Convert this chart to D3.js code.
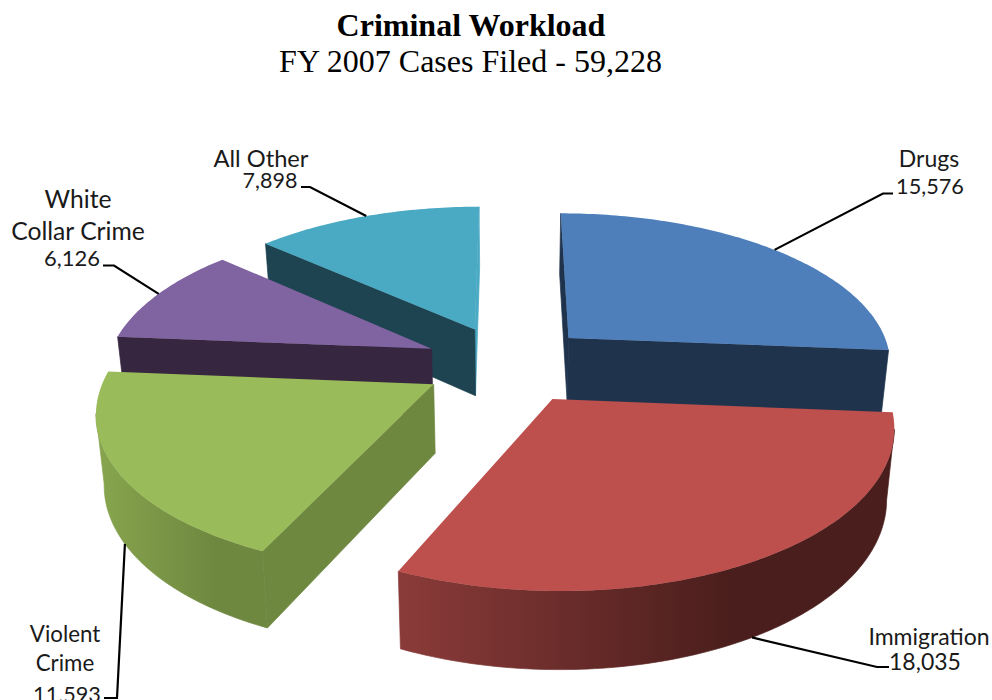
<!DOCTYPE html>
<html>
<head>
<meta charset="utf-8">
<script src="https://cdn.jsdelivr.net/npm/d3@7/dist/d3.min.js"></script>
<style>
  html, body { margin: 0; padding: 0; background: #fff; overflow: hidden; }
  svg { display: block; }
</style>
</head>
<body>
<svg id="chart" width="992" height="700"></svg>
<script>
// Criminal caseload, FY 2007
const categories = ["Drugs", "Immigration", "Violent Crime", "White Collar Crime", "All Other"];
const caseCounts = [15576, 18035, 11593, 6126, 7898];
const titleLines = ["Criminal Workload", "FY 2007 Cases Filed - 59,228"];
const labelLines = [["Drugs"], ["Immigration"], ["Violent", "Crime"], ["White", "Collar Crime"], ["All Other"]];

const topColors = ["#4e7fbb", "#bd4f4c", "#9abb59", "#8063a1", "#4aa9c3"];
const edgeColors = ["#1f334d", "#4a1e1c", "#6f8840", "#372640", "#1d4450"];
const rimRamps = [
  ["#1f334d", "#1f334d"],
  ["#8a3b39", "#4a1e1c"],
  ["#86a34d", "#6f8840"],
  ["#372640", "#372640"],
  ["#1d4450", "#1d4450"]
];

// Back slices are painted first so that nearer ones overlap them.
const paintOrder = [4, 3, 0, 2, 1];

const svg = d3.select("#chart");
const defs = svg.append("defs");
const fmt = d3.format(",");

// Perspective view of the pie disc.
const view = { cx: 508, cy: 364, sx: 325, sy: 151, k: 0.152, explode: 0.26, thickness: 68, thicknessFalloff: 0.7, baseShrink: 0.98 };

const arcs = d3.pie().sort(null).value(d => d)(caseCounts);

// Projects a disc point at clock angle a and radius r; lift 0 is the top face, 1 the underside.
function project(slice, a, r, lift) {
  const mid = (slice.startAngle + slice.endAngle) / 2;
  const u = view.explode * Math.sin(mid) + r * Math.sin(a);
  const v = view.explode * Math.cos(mid) + r * Math.cos(a);
  const s = 1 / (1 + view.k * v);
  const shrink = lift ? view.baseShrink : 1;
  return [
    view.cx + view.sx * u * s * shrink,
    view.cy - view.sy * v * s + lift * view.thickness * Math.pow(s, view.thicknessFalloff)
  ];
}

const line = d3.line();

function arcPoints(slice, lift) {
  const n = Math.max(8, Math.round((slice.endAngle - slice.startAngle) * 60));
  return d3.range(n + 1).map(i => {
    const a = slice.startAngle + (slice.endAngle - slice.startAngle) * i / n;
    return project(slice, a, 1, lift);
  });
}

// Signed screen area, used to keep only the walls that face the viewer.
const facesViewer = quad => d3.polygonArea(quad) > 0;

// Walls carry a hairline of their own paint so adjoining faces close up.
function face(g, points, paint) {
  return g.append("path")
    .attr("d", line(points) + "Z")
    .attr("fill", paint)
    .attr("stroke", paint)
    .attr("stroke-width", 0.7)
    .attr("stroke-linejoin", "round");
}

const pieGroup = svg.append("g");

paintOrder.forEach(i => {
  const slice = arcs[i];
  const g = pieGroup.append("g").attr("class", "slice");
  const apexTop = project(slice, 0, 0, 0);
  const apexBase = project(slice, 0, 0, 1);
  const topArc = arcPoints(slice, 0);
  const baseArc = arcPoints(slice, 1);

  // Radial wall along the trailing edge; a near edge-on one catches the top colour.
  const endQuad = [topArc[topArc.length - 1], apexTop, apexBase, baseArc[baseArc.length - 1]];
  if (facesViewer(endQuad)) {
    face(g, endQuad, d3.polygonArea(endQuad) < 800 ? topColors[i] : edgeColors[i]);
  }

  // Radial wall along the leading edge.
  const startQuad = [apexTop, topArc[0], baseArc[0], apexBase];
  if (facesViewer(startQuad)) {
    face(g, startQuad, edgeColors[i]);
  }

  // Curved rim: only the stretch running right to left on screen is on the near side.
  const frontIdx = d3.range(baseArc.length - 1).filter(j => baseArc[j + 1][0] < baseArc[j][0]);
  if (frontIdx.length) {
    const a0 = frontIdx[0];
    const a1 = frontIdx[frontIdx.length - 1] + 1;
    const xs = baseArc.slice(a0, a1 + 1).map(p => p[0]);
    const x0 = d3.min(xs), x1 = d3.max(xs);
    const id = "rim" + i;
    const grad = defs.append("linearGradient").attr("id", id)
      .attr("gradientUnits", "userSpaceOnUse")
      .attr("x1", x0).attr("x2", x1).attr("y1", 0).attr("y2", 0);
    grad.append("stop").attr("offset", 0).attr("stop-color", rimRamps[i][0]);
    grad.append("stop").attr("offset", 0.68).attr("stop-color", rimRamps[i][1]);
    const outline = topArc.slice(a0, a1 + 1).concat(baseArc.slice(a0, a1 + 1).reverse());
    face(g, outline, `url(#${id})`);
  }

  g.append("path")
    .attr("d", line([apexTop].concat(topArc)) + "Z")
    .attr("fill", topColors[i]);
});

// Leader lines run from the middle of each slice's rim to its label.
const leaderLevel = [0, 1, 1, 0, 0];
const leaderEnds = [
  [[883, 193.5], [893, 193.5]],
  [[877, 667], [889, 667]],
  [[117, 698], [104, 698]],
  [[114, 265.5], [103, 265.5]],
  [[310, 187], [301, 187]]
];
arcs.forEach((slice, i) => {
  const mid = (slice.startAngle + slice.endAngle) / 2;
  const anchor = project(slice, mid, 1, leaderLevel[i]);
  svg.append("path")
    .attr("d", line([anchor].concat(leaderEnds[i])))
    .attr("fill", "none")
    .attr("stroke", "#000")
    .attr("stroke-width", 2.2);
});

// Data labels: category lines followed by the case count.
const labelBlocks = [
  { name: [[929, 167]], nameSize: [23], value: [930, 194], valueSize: 21.7 },
  { name: [[929, 645]], nameSize: [23], value: [925, 670], valueSize: 23 },
  { name: [[65, 642], [65, 671]], nameSize: [22.3, 22.3], value: [67, 702], valueSize: 21.7 },
  { name: [[78, 208], [78, 240]], nameSize: [24.7, 24.7], value: [72, 266], valueSize: 22 },
  { name: [[261, 167]], nameSize: [23.7], value: [270, 188], valueSize: 21.5 }
];
labelBlocks.forEach((block, i) => {
  labelLines[i].forEach((txt, j) => {
    svg.append("text")
      .attr("x", block.name[j][0]).attr("y", block.name[j][1])
      .attr("text-anchor", "middle")
      .attr("font-family", "Lato, sans-serif").attr("font-size", block.nameSize[j])
      .attr("fill", "#1a1a1a").text(txt);
  });
  svg.append("text")
    .attr("x", block.value[0]).attr("y", block.value[1])
    .attr("text-anchor", "middle")
    .attr("font-family", "Lato, sans-serif").attr("font-size", block.valueSize)
    .attr("fill", "#1a1a1a").text(fmt(caseCounts[i]));
});

// Heading
svg.append("text")
  .attr("x", 471).attr("y", 36).attr("text-anchor", "middle")
  .attr("font-family", "'Liberation Serif', serif").attr("font-size", 32).attr("font-weight", "bold")
  .attr("fill", "#000").text(titleLines[0]);
svg.append("text")
  .attr("x", 470.5).attr("y", 72).attr("text-anchor", "middle")
  .attr("font-family", "'Liberation Serif', serif").attr("font-size", 32)
  .attr("fill", "#000").text(titleLines[1]);
</script>
</body>
</html>
